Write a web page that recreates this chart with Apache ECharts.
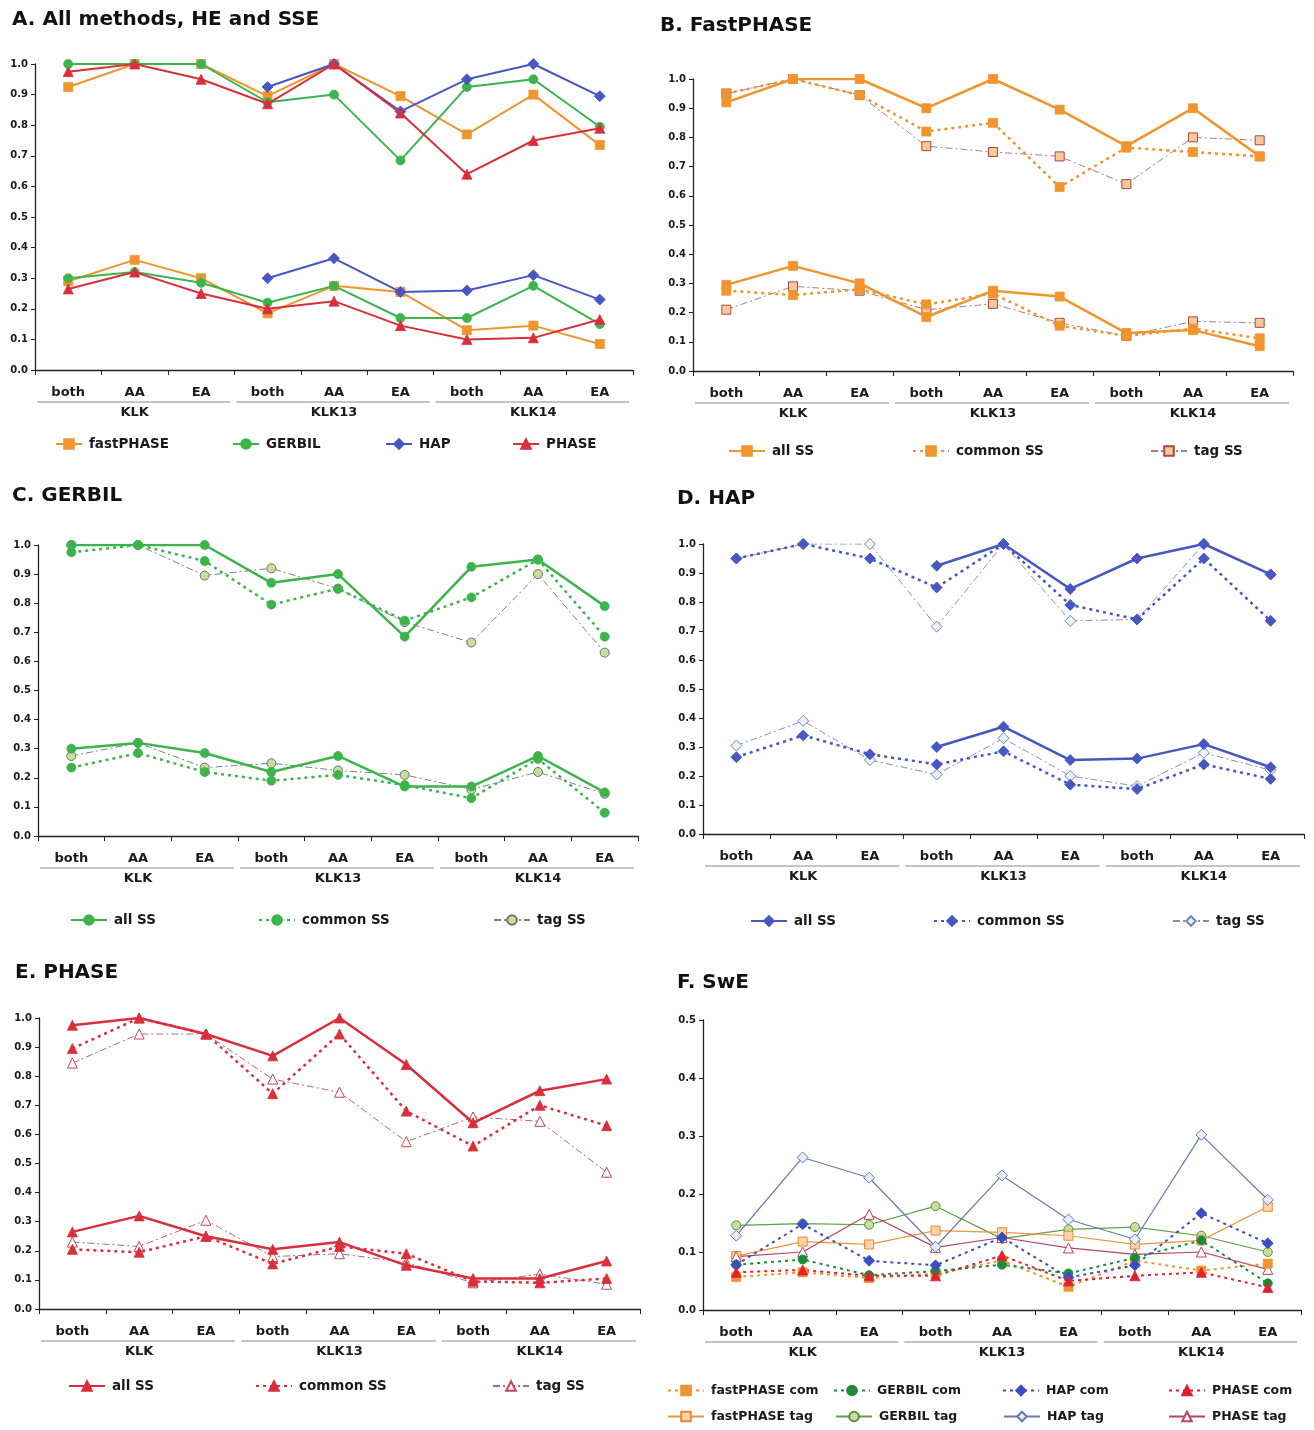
<!DOCTYPE html>
<html><head><meta charset="utf-8">
<script src="https://cdn.jsdelivr.net/npm/echarts@6/dist/echarts.min.js"></script>
<style>html,body{margin:0;padding:0;background:#fff}#c{width:1314px;height:1430px}</style>
</head><body><div id="c"></div>
<script>
// ---------- data ----------
const categories = ['both','AA','EA','both','AA','EA','both','AA','EA'];
const groups = ['KLK','KLK13','KLK14'];

// A. All methods (HE upper, SSE lower)
const A_fastPHASE_HE  = [0.925,1.0,1.0,0.895,1.0,0.895,0.77,0.90,0.735];
const A_fastPHASE_SSE = [0.29,0.36,0.30,0.185,0.275,0.255,0.13,0.145,0.085];
const A_GERBIL_HE     = [1.0,1.0,1.0,0.875,0.90,0.685,0.925,0.95,0.795];
const A_GERBIL_SSE    = [0.30,0.32,0.285,0.22,0.275,0.17,0.17,0.275,0.15];
const A_HAP_HE        = [null,null,null,0.925,1.0,0.845,0.95,1.0,0.895];
const A_HAP_SSE       = [null,null,null,0.30,0.365,0.255,0.26,0.31,0.23];
const A_PHASE_HE      = [0.975,1.0,0.95,0.87,1.0,0.84,0.64,0.75,0.79];
const A_PHASE_SSE     = [0.265,0.32,0.25,0.20,0.225,0.145,0.10,0.105,0.165];

// B. fastPHASE
const B_all_HE     = [0.92,1.0,1.0,0.90,1.0,0.895,0.77,0.90,0.735];
const B_common_HE  = [0.95,1.0,0.945,0.82,0.85,0.63,0.765,0.75,0.735];
const B_tag_HE     = [0.95,1.0,0.945,0.77,0.75,0.735,0.64,0.80,0.79];
const B_all_SSE    = [0.295,0.36,0.30,0.185,0.275,0.255,0.13,0.14,0.085];
const B_common_SSE = [0.275,0.26,0.28,0.228,0.265,0.155,0.12,0.145,0.112];
const B_tag_SSE    = [0.21,0.29,0.275,0.21,0.23,0.165,0.12,0.17,0.165];

// C. GERBIL
const C_all_HE     = [1.0,1.0,1.0,0.87,0.90,0.685,0.925,0.95,0.79];
const C_common_HE  = [0.975,1.0,0.945,0.795,0.85,0.74,0.82,0.95,0.685];
const C_tag_HE     = [1.0,1.0,0.895,0.92,0.85,0.735,0.665,0.90,0.63];
const C_all_SSE    = [0.30,0.32,0.285,0.22,0.275,0.17,0.17,0.275,0.15];
const C_common_SSE = [0.235,0.285,0.22,0.19,0.21,0.175,0.13,0.265,0.08];
const C_tag_SSE    = [0.275,0.32,0.235,0.25,0.225,0.21,0.16,0.22,0.145];

// D. HAP
const D_all_HE     = [null,null,null,0.925,1.0,0.845,0.95,1.0,0.895];
const D_common_HE  = [0.95,1.0,0.95,0.85,1.0,0.79,0.74,0.95,0.735];
const D_tag_HE     = [0.95,1.0,1.0,0.715,1.0,0.735,0.74,1.0,0.895];
const D_all_SSE    = [null,null,null,0.30,0.37,0.255,0.26,0.31,0.23];
const D_common_SSE = [0.265,0.34,0.275,0.24,0.285,0.17,0.155,0.24,0.19];
const D_tag_SSE    = [0.305,0.39,0.255,0.205,0.33,0.20,0.165,0.28,0.22];

// E. PHASE
const E_all_HE     = [0.975,1.0,0.945,0.87,1.0,0.84,0.64,0.75,0.79];
const E_common_HE  = [0.895,1.0,0.945,0.74,0.945,0.68,0.56,0.70,0.63];
const E_tag_HE     = [0.845,0.945,0.945,0.79,0.745,0.575,0.66,0.645,0.47];
const E_all_SSE    = [0.265,0.32,0.25,0.205,0.23,0.15,0.105,0.105,0.165];
const E_common_SSE = [0.205,0.195,0.25,0.155,0.215,0.19,0.095,0.09,0.105];
const E_tag_SSE    = [0.23,0.215,0.305,0.18,0.19,0.16,0.09,0.12,0.085];

// F. SwE
const F_fastPHASE_com = [0.057,0.065,0.055,0.063,0.085,0.04,0.085,0.068,0.08];
const F_GERBIL_com    = [0.078,0.087,0.06,0.067,0.078,0.063,0.09,0.12,0.046];
const F_HAP_com       = [0.078,0.148,0.085,0.077,0.125,0.056,0.077,0.167,0.115];
const F_PHASE_com     = [0.065,0.069,0.059,0.059,0.094,0.05,0.059,0.065,0.039];
const F_fastPHASE_tag = [0.093,0.118,0.113,0.137,0.134,0.128,0.113,0.12,0.178];
const F_GERBIL_tag    = [0.146,0.149,0.147,0.179,0.123,0.139,0.143,0.128,0.10];
const F_HAP_tag       = [0.128,0.263,0.228,0.109,0.232,0.156,0.122,0.302,0.19];
const F_PHASE_tag     = [0.092,0.10,0.165,0.108,0.125,0.107,0.096,0.10,0.07];

// ---------- layout / style ----------
const FONT = '"DejaVu Sans", Verdana, sans-serif';
const TXT = '#1a1a1a';
const grids = [
  {left:35,  top:64,   width:598, height:306},
  {left:693, top:79,   width:600, height:292},
  {left:38,  top:545,  width:600, height:291},
  {left:703, top:544,  width:601, height:290},
  {left:39,  top:1018, width:601, height:291},
  {left:703, top:1020, width:598, height:290}
];
const yMax = [1,1,1,1,1,0.5];
const titles = [
  {t:'A. All methods, HE and SSE', x:12, y:10},
  {t:'B. FastPHASE', x:660, y:16},
  {t:'C. GERBIL', x:12, y:486},
  {t:'D. HAP', x:677, y:489},
  {t:'E. PHASE', x:15, y:963},
  {t:'F. SwE', x:677, y:973}
];

const COL = {orange:'#f0952e', green:'#3cb44b', blue:'#4656c2', red:'#d92f3c'};
const SOLID = 'solid', DOT = [3,4], DASHDOT = [7,3,2,3];

function S(name, g, data, o){
  return {
    type:'line', name, xAxisIndex:2*g, yAxisIndex:g, data,
    symbol:o.symbol, symbolSize:o.size||9, showSymbol:true,
    connectNulls:false, z:o.z||2,
    lineStyle:{color:o.line||o.color, width:o.width||2, type:o.type||SOLID},
    itemStyle:{color:o.fill||o.color, borderColor:o.border||o.fill||o.color, borderWidth:o.bw||0.8},
    emphasis:{disabled:true}
  };
}

const series = [];
// A
[['fastPHASE',A_fastPHASE_HE,A_fastPHASE_SSE,COL.orange,'rect',9],
 ['GERBIL',A_GERBIL_HE,A_GERBIL_SSE,COL.green,'circle',9],
 ['HAP',A_HAP_HE,A_HAP_SSE,COL.blue,'diamond',11],
 ['PHASE',A_PHASE_HE,A_PHASE_SSE,COL.red,'triangle',10]].forEach(([n,he,sse,c,sym,sz],k)=>{
  series.push(S('A|'+n,0,he,{color:c,symbol:sym,size:sz,width:2,z:2+k}));
  series.push(S('A|'+n,0,sse,{color:c,symbol:sym,size:sz,width:2,z:2+k}));
});

function panel(letter, g, all, com, tag, c, sym, sz, tagStyle){
  series.push(S(letter+'|all SS',g,all[0],{color:c,symbol:sym,size:sz,width:2.5,z:5}));
  series.push(S(letter+'|all SS',g,all[1],{color:c,symbol:sym,size:sz,width:2.5,z:5}));
  series.push(S(letter+'|common SS',g,com[0],{color:c,symbol:sym,size:sz,width:2.5,type:DOT,z:4}));
  series.push(S(letter+'|common SS',g,com[1],{color:c,symbol:sym,size:sz,width:2.5,type:DOT,z:4}));
  series.push(S(letter+'|tag SS',g,tag[0],Object.assign({symbol:sym,size:sz,width:1,type:DASHDOT,z:3},tagStyle)));
  series.push(S(letter+'|tag SS',g,tag[1],Object.assign({symbol:sym,size:sz,width:1,type:DASHDOT,z:3},tagStyle)));
}
panel('B',1,[B_all_HE,B_all_SSE],[B_common_HE,B_common_SSE],[B_tag_HE,B_tag_SSE],COL.orange,'rect',9,
  {line:'#a87d8e',fill:'#f9c89a',border:'#a04a40',bw:1});
panel('C',2,[C_all_HE,C_all_SSE],[C_common_HE,C_common_SSE],[C_tag_HE,C_tag_SSE],COL.green,'circle',9,
  {line:'#808080',fill:'#c6e09c',border:'#707070',bw:1});
panel('D',3,[D_all_HE,D_all_SSE],[D_common_HE,D_common_SSE],[D_tag_HE,D_tag_SSE],COL.blue,'diamond',11,
  {line:'#8391b5',fill:'#eaf2fb',border:'#7585aa',bw:1});
panel('E',4,[E_all_HE,E_all_SSE],[E_common_HE,E_common_SSE],[E_tag_HE,E_tag_SSE],COL.red,'triangle',10,
  {line:'#b3677a',fill:'#ffffff',border:'#c94452',bw:1});

// F
series.push(S('F|GERBIL tag',5,F_GERBIL_tag,{line:'#5f9e4a',fill:'#c6e09c',border:'#5a9045',bw:1,symbol:'circle',size:9,width:1.2,z:2}));
series.push(S('F|fastPHASE tag',5,F_fastPHASE_tag,{line:'#f09340',fill:'#fcd4a6',border:'#e8883a',bw:1,symbol:'rect',size:9,width:1.2,z:2}));
series.push(S('F|PHASE tag',5,F_PHASE_tag,{line:'#b54468',fill:'#ffffff',border:'#c0405e',bw:1,symbol:'triangle',size:10,width:1.2,z:2}));
series.push(S('F|HAP tag',5,F_HAP_tag,{line:'#6b76b3',fill:'#e6eefa',border:'#6b76b3',bw:1,symbol:'diamond',size:11,width:1.2,z:2}));
series.push(S('F|fastPHASE com',5,F_fastPHASE_com,{color:'#f0952e',symbol:'rect',size:9,width:2,type:DOT,z:3}));
series.push(S('F|GERBIL com',5,F_GERBIL_com,{color:'#1e8b3a',symbol:'circle',size:9,width:2,type:DOT,z:3}));
series.push(S('F|HAP com',5,F_HAP_com,{color:'#3a4ec4',symbol:'diamond',size:11,width:2,type:DOT,z:3}));
series.push(S('F|PHASE com',5,F_PHASE_com,{color:'#e3202e',symbol:'triangle',size:10,width:2,type:DOT,z:3}));

// axes
const xAxis = [], yAxis = [];
grids.forEach((g,i)=>{
  xAxis.push({type:'category', gridIndex:i, data:categories, boundaryGap:true,
    axisLine:{show:true, lineStyle:{color:'#222', width:1.3}},
    axisTick:{show:true, interval:0, length:5, lineStyle:{color:'#222'}},
    axisLabel:{interval:0, margin:16, fontFamily:FONT, fontWeight:'bold', fontSize:13, color:TXT},
    splitLine:{show:false}});
  xAxis.push({type:'category', gridIndex:i, data:groups, position:'bottom', offset:31, boundaryGap:true,
    axisLine:{show:false}, axisTick:{show:false},
    axisLabel:{interval:0, margin:5, fontFamily:FONT, fontWeight:'bold', fontSize:13, color:TXT}});
  yAxis.push({type:'value', gridIndex:i, min:0, max:yMax[i], interval:0.1,
    axisLine:{show:true, lineStyle:{color:'#222', width:1.3}},
    axisTick:{show:true, length:4, lineStyle:{color:'#222'}},
    splitLine:{show:false},
    axisLabel:{margin:7, fontFamily:FONT, fontWeight:'bold', fontSize:10, color:TXT, formatter:v=>v.toFixed(1)}});
});

// legends (one per item for exact placement)
const legendSpec = [
  ['A|fastPHASE',55,445],['A|GERBIL',232,445],['A|HAP',385,445],['A|PHASE',512,445],
  ['B|all SS',728,452],['B|common SS',912,452],['B|tag SS',1150,452],
  ['C|all SS',70,921],['C|common SS',258,921],['C|tag SS',493,921],
  ['D|all SS',750,922],['D|common SS',933,922],['D|tag SS',1172,922],
  ['E|all SS',68,1387],['E|common SS',255,1387],['E|tag SS',492,1387],
  ['F|fastPHASE com',667,1392],['F|GERBIL com',833,1392],['F|HAP com',1002,1392],['F|PHASE com',1168,1392],
  ['F|fastPHASE tag',667,1418],['F|GERBIL tag',835,1418],['F|HAP tag',1003,1418],['F|PHASE tag',1168,1418]
];
const legend = legendSpec.map(([n,x,y])=>({
  data:[n], left:x, top:y-8, orient:'horizontal', padding:0, selectedMode:false,
  itemWidth: n.startsWith('A|') ? 26 : 36, itemHeight:12, itemGap:0,
  formatter: name=>name.split('|')[1],
  textStyle:{fontFamily:FONT, fontWeight:'bold', fontSize: n.startsWith('F|') ? 12.5 : 13.5, color:TXT, padding:[0,0,0,2]}
}));

const title = titles.map(t=>({text:t.t, left:t.x, top:t.y, padding:0,
  textStyle:{fontFamily:FONT, fontWeight:'bold', fontSize:20, color:'#111'}}));

const chart = echarts.init(document.getElementById('c'), null, {renderer:'canvas'});
chart.setOption({
  animation:false, backgroundColor:'#fff',
  title, grid:grids, xAxis, yAxis, legend, series
});

// group separator lines under category labels, positioned via axis scales
const graphic = [];
grids.forEach((g,i)=>{
  const px = v => chart.convertToPixel({xAxisIndex:2*i}, v);
  const bw = px(1) - px(0);
  const y0 = chart.convertToPixel({yAxisIndex:i}, 0) + 32;
  for (let k=0;k<3;k++){
    const x1 = px(3*k) - bw/2 + 2, x2 = px(3*k+2) + bw/2 - 4;
    graphic.push({type:'line', shape:{x1, y1:y0, x2, y2:y0}, style:{stroke:'#8a8a8a', lineWidth:1}, silent:true});
  }
});
chart.setOption({graphic});
</script>
</body></html>
